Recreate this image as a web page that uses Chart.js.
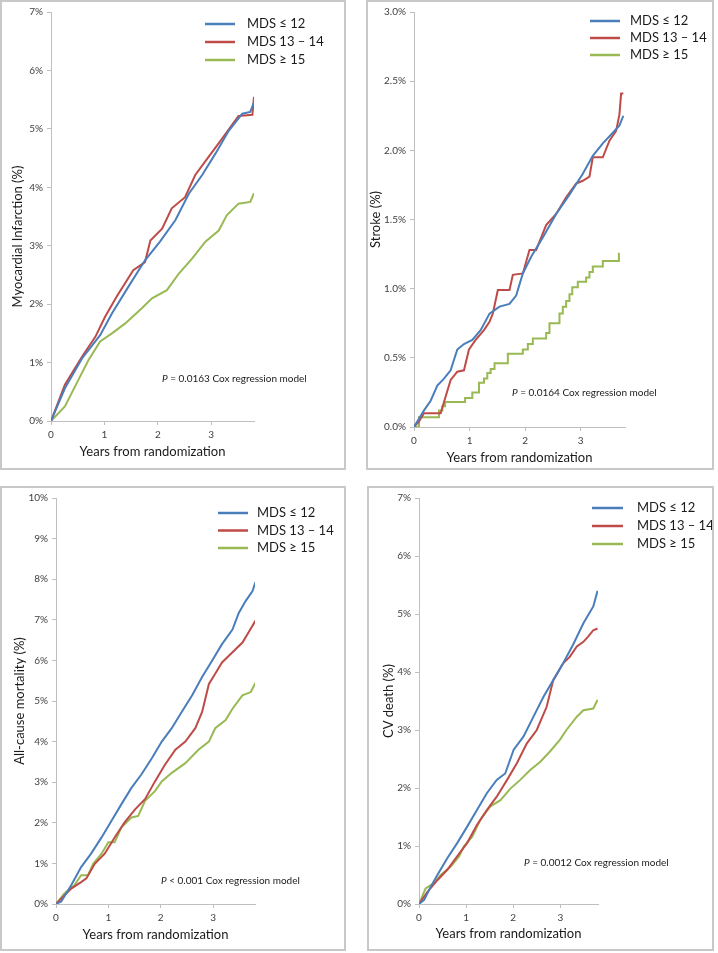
<!DOCTYPE html>
<html>
<head>
<meta charset="utf-8">
<script src="https://cdn.jsdelivr.net/npm/chart.js@4"></script>
<style>
  body { margin: 0; background: #fff; width: 718px; height: 953px; position: relative; overflow: hidden; }
  .panel { position: absolute; border: 2px solid #c8c8c8; box-sizing: border-box; background: #fff; }
  .panel canvas { position: absolute; left: 0; top: 0; }
</style>
</head>
<body>
<div class="panel" style="left:0;top:0;width:346px;height:470px"><canvas id="c1" width="342" height="466"></canvas></div>
<div class="panel" style="left:366px;top:0;width:348px;height:470px"><canvas id="c2" width="344" height="466"></canvas></div>
<div class="panel" style="left:0;top:486px;width:346px;height:465px"><canvas id="c3" width="342" height="461"></canvas></div>
<div class="panel" style="left:367px;top:486px;width:347px;height:465px"><canvas id="c4" width="343" height="461"></canvas></div>
<script>
// groups and colours
const groupLabels = ['MDS ≤ 12', 'MDS 13 – 14', 'MDS ≥ 15'];
const groupColors = ['#4a7ebb', '#be4b48', '#98b954'];
const xTitle = 'Years from randomization';

// Myocardial infarction, [years, cumulative %]
const miBlue = [[0,0],[0.26,0.56],[0.58,1.07],[0.92,1.47],[1.14,1.84],[1.45,2.30],[1.76,2.75],[2.04,3.07],[2.33,3.44],[2.58,3.89],[2.83,4.21],[3.08,4.58],[3.33,4.97],[3.58,5.26],[3.73,5.29],[3.81,5.48]];
const miRed = [[0,0],[0.26,0.62],[0.58,1.10],[0.83,1.44],[1.01,1.78],[1.23,2.13],[1.54,2.58],[1.76,2.72],[1.86,3.09],[2.08,3.29],[2.26,3.64],[2.51,3.83],[2.70,4.21],[2.95,4.52],[3.20,4.83],[3.51,5.22],[3.77,5.24],[3.80,5.55]];
const miGreen = [[0,0],[0.26,0.25],[0.51,0.70],[0.70,1.04],[0.92,1.36],[1.14,1.50],[1.39,1.67],[1.70,1.93],[1.89,2.10],[2.17,2.24],[2.39,2.52],[2.64,2.78],[2.89,3.07],[3.14,3.26],[3.29,3.52],[3.51,3.72],[3.73,3.75],[3.80,3.90]];

// Stroke
const stBlue = [[0,0],[0.18,0.12],[0.30,0.19],[0.42,0.30],[0.54,0.35],[0.66,0.41],[0.78,0.56],[0.90,0.60],[1.05,0.63],[1.20,0.70],[1.36,0.82],[1.54,0.87],[1.72,0.89],[1.84,0.95],[1.96,1.11],[2.11,1.23],[2.32,1.37],[2.56,1.54],[2.80,1.68],[3.04,1.83],[3.22,1.96],[3.40,2.05],[3.61,2.14],[3.70,2.18],[3.77,2.25]];
const stRed = [[0,0],[0.09,0.04],[0.18,0.10],[0.48,0.10],[0.57,0.22],[0.66,0.34],[0.78,0.40],[0.90,0.41],[0.99,0.56],[1.11,0.63],[1.26,0.70],[1.36,0.76],[1.42,0.82],[1.51,0.99],[1.72,0.99],[1.78,1.10],[1.96,1.11],[2.08,1.28],[2.20,1.28],[2.38,1.46],[2.56,1.54],[2.74,1.66],[2.92,1.76],[3.04,1.78],[3.16,1.81],[3.22,1.95],[3.40,1.95],[3.52,2.07],[3.64,2.14],[3.70,2.26],[3.73,2.41],[3.77,2.41]];
const stGreen = [[0,0],[0.09,0.07],[0.45,0.12],[0.51,0.15],[0.56,0.18],[0.92,0.21],[1.05,0.25],[1.17,0.32],[1.26,0.35],[1.32,0.39],[1.38,0.42],[1.45,0.46],[1.69,0.53],[1.96,0.56],[2.05,0.60],[2.14,0.64],[2.38,0.68],[2.44,0.75],[2.62,0.82],[2.68,0.87],[2.74,0.91],[2.80,0.96],[2.85,1.01],[2.95,1.05],[3.10,1.08],[3.16,1.12],[3.22,1.16],[3.40,1.20],[3.69,1.26]];

// All-cause mortality
const acBlue = [[0,0],[0.10,0.06],[0.29,0.46],[0.48,0.91],[0.67,1.24],[0.87,1.64],[1.06,2.05],[1.25,2.46],[1.44,2.86],[1.63,3.19],[1.83,3.59],[2.02,4.00],[2.21,4.33],[2.40,4.73],[2.60,5.14],[2.79,5.59],[2.98,5.99],[3.17,6.40],[3.37,6.76],[3.49,7.17],[3.62,7.46],[3.75,7.70],[3.81,7.93]];
const acRed = [[0,0],[0.29,0.38],[0.48,0.54],[0.58,0.63],[0.74,0.99],[0.93,1.24],[1.12,1.64],[1.31,2.01],[1.51,2.33],[1.70,2.58],[1.89,3.02],[2.08,3.43],[2.28,3.80],[2.47,4.00],[2.66,4.33],[2.79,4.73],[2.92,5.42],[3.04,5.67],[3.17,5.95],[3.37,6.20],[3.56,6.44],[3.69,6.72],[3.81,6.98]];
const acGreen = [[0,0],[0.16,0.26],[0.35,0.46],[0.48,0.71],[0.61,0.71],[0.71,0.99],[0.87,1.24],[1.00,1.52],[1.12,1.52],[1.25,1.89],[1.44,2.13],[1.57,2.17],[1.70,2.54],[1.89,2.78],[2.02,3.02],[2.21,3.23],[2.47,3.47],[2.72,3.80],[2.92,4.00],[3.04,4.33],[3.24,4.53],[3.37,4.81],[3.56,5.14],[3.72,5.22],[3.81,5.45]];

// CV death
const cvBlue = [[0,0],[0.11,0.07],[0.25,0.30],[0.39,0.50],[0.60,0.79],[0.81,1.05],[1.02,1.33],[1.23,1.62],[1.44,1.91],[1.65,2.14],[1.83,2.25],[2.01,2.66],[2.22,2.89],[2.43,3.23],[2.64,3.57],[2.85,3.86],[3.06,4.15],[3.27,4.47],[3.49,4.84],[3.70,5.13],[3.79,5.40]];
const cvRed = [[0,0],[0.18,0.21],[0.39,0.41],[0.60,0.59],[0.81,0.82],[1.02,1.05],[1.23,1.36],[1.44,1.62],[1.65,1.85],[1.87,2.14],[2.08,2.43],[2.29,2.77],[2.50,3.00],[2.71,3.40],[2.85,3.86],[3.06,4.15],[3.20,4.26],[3.35,4.44],[3.49,4.52],[3.59,4.61],[3.70,4.72],[3.79,4.75]];
const cvGreen = [[0,0],[0.14,0.27],[0.32,0.36],[0.46,0.50],[0.67,0.64],[0.85,0.82],[0.95,0.99],[1.13,1.16],[1.30,1.45],[1.51,1.68],[1.73,1.79],[1.94,1.99],[2.15,2.14],[2.36,2.31],[2.57,2.45],[2.78,2.63],[2.99,2.83],[3.13,3.00],[3.35,3.23],[3.49,3.34],[3.70,3.37],[3.79,3.52]];

Chart.defaults.font.family = 'Lato';
Chart.defaults.color = '#595959';

const kmLegend = {
  id: 'kmLegend',
  afterDraw(chart, args, opts) {
    const ctx = chart.ctx;
    ctx.save();
    ctx.font = '13px Lato';
    ctx.textBaseline = 'middle';
    chart.data.datasets.forEach((ds, i) => {
      const y = opts.y + i * opts.dy;
      ctx.strokeStyle = ds.borderColor;
      ctx.lineWidth = 2.5;
      ctx.beginPath();
      ctx.moveTo(opts.x, y);
      ctx.lineTo(opts.x + opts.len, y);
      ctx.stroke();
      ctx.fillStyle = '#1a1a1a';
      ctx.fillText(ds.label, opts.textX, y);
    });
    ctx.restore();
  }
};

const pNote = {
  id: 'pNote',
  afterDraw(chart, args, opts) {
    const ctx = chart.ctx;
    ctx.save();
    ctx.textBaseline = 'middle';
    ctx.fillStyle = '#1a1a1a';
    ctx.font = 'italic 10px Lato';
    ctx.fillText('P', opts.x, opts.y);
    const w = ctx.measureText('P').width;
    ctx.font = '10px Lato';
    ctx.fillText(opts.text, opts.x + w, opts.y);
    ctx.restore();
  }
};

function makePanel(id, p) {
  const canvas = document.getElementById(id);
  const W = canvas.width, H = canvas.height;
  new Chart(canvas, {
    type: 'line',
    data: {
      datasets: p.series.map((s, i) => ({
        label: groupLabels[i],
        data: s.map(pt => ({ x: pt[0], y: pt[1] })),
        borderColor: groupColors[i],
        borderWidth: 2,
        pointRadius: 0,
        stepped: p.stepped[i],
        tension: 0,
        fill: false
      }))
    },
    options: {
      responsive: false,
      animation: false,
      layout: { padding: { left: 0, top: p.area.top, right: W - p.area.right, bottom: 0 } },
      plugins: {
        legend: { display: false },
        tooltip: { enabled: false },
        kmLegend: p.legend,
        pNote: p.note
      },
      scales: {
        x: {
          type: 'linear', min: 0, max: 3.8,
          ticks: { stepSize: 1, padding: 4, font: { size: 10 }, color: '#404040' },
          afterBuildTicks: s => { s.ticks = s.ticks.filter(t => Number.isInteger(t.value)); },
          afterFit: s => { s.height = H - p.area.bottom; },
          grid: { drawOnChartArea: false, tickLength: 4, color: '#bfbfbf' },
          border: { color: '#bfbfbf' },
          title: { display: true, text: xTitle, color: '#1a1a1a', font: { size: 13 }, padding: { top: 0, bottom: p.xTitlePad } }
        },
        y: {
          min: 0, max: p.ymax,
          ticks: { stepSize: p.step, padding: 4, font: { size: 10 }, color: '#404040', callback: v => v.toFixed(p.dec) + '%' },
          afterFit: s => { s.width = p.area.left; },
          grid: { drawOnChartArea: false, tickLength: 4, color: '#bfbfbf' },
          border: { color: '#bfbfbf' },
          title: { display: true, text: p.yTitle, color: '#1a1a1a', font: { size: 13 }, padding: { top: p.yTitlePad, bottom: 0 } }
        }
      }
    },
    plugins: [kmLegend, pNote]
  });
}

makePanel('c1', {
  series: [miBlue, miRed, miGreen], stepped: [false, false, false],
  ymax: 7, step: 1, dec: 0,
  yTitle: 'Myocardial Infarction (%)' + '\u00a0'.repeat(12),
  area: { left: 49, right: 252, top: 10, bottom: 419 },
  xTitlePad: 8, yTitlePad: 8,
  legend: { x: 203, len: 30, textX: 245, y: 22, dy: 18 },
  note: { x: 160, y: 377, text: ' = 0.0163 Cox regression model' }
});

makePanel('c2', {
  series: [stBlue, stRed, stGreen], stepped: [false, false, true],
  ymax: 3, step: 0.5, dec: 1,
  yTitle: 'Stroke (%)',
  area: { left: 46, right: 257, top: 9, bottom: 425 },
  xTitlePad: 2, yTitlePad: 0,
  legend: { x: 222, len: 30, textX: 262, y: 19, dy: 17 },
  note: { x: 144, y: 391, text: ' = 0.0164 Cox regression model' }
});

makePanel('c3', {
  series: [acBlue, acRed, acGreen], stepped: [false, false, false],
  ymax: 10, step: 1, dec: 0,
  yTitle: 'All-cause mortality (%)',
  area: { left: 54, right: 253, top: 8, bottom: 416 },
  xTitlePad: 6, yTitlePad: 10,
  legend: { x: 216, len: 30, textX: 255, y: 25, dy: 17.5 },
  note: { x: 159, y: 393, text: ' < 0.001 Cox regression model' }
});

makePanel('c4', {
  series: [cvBlue, cvRed, cvGreen], stepped: [false, false, false],
  ymax: 7, step: 1, dec: 0,
  yTitle: 'CV death (%)',
  area: { left: 50, right: 229, top: 9, bottom: 416 },
  xTitlePad: 7, yTitlePad: 12,
  legend: { x: 223, len: 31, textX: 268, y: 20, dy: 18 },
  note: { x: 155, y: 375, text: ' = 0.0012 Cox regression model' }
});
</script>
</body>
</html>
